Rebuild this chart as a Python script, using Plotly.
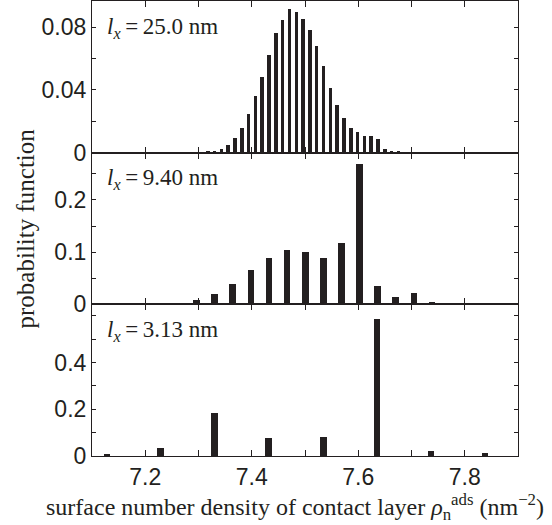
import plotly.graph_objects as go
from plotly.subplots import make_subplots

INK = "#231f20"

# ---- data: l_x = 25.0 nm (top panel)
x_25 = [7.3175, 7.3303, 7.3431, 7.3558, 7.3686, 7.3814, 7.3942, 7.4070, 7.4197, 7.4325,
        7.4453, 7.4581, 7.4709, 7.4837, 7.4964, 7.5092, 7.5220, 7.5348, 7.5476, 7.5603,
        7.5731, 7.5859, 7.5987, 7.6115, 7.6243, 7.6370, 7.6498, 7.6626, 7.6754]
p_25 = [0.0007, 0.0010, 0.0026, 0.0050, 0.0091, 0.0160, 0.0249, 0.0364, 0.0485, 0.0625,
        0.0766, 0.0847, 0.0917, 0.0900, 0.0853, 0.0783, 0.0683, 0.0555, 0.0413, 0.0306,
        0.0220, 0.0159, 0.0132, 0.0106, 0.0106, 0.0089, 0.0026, 0.0009, 0.0006]

# ---- data: l_x = 9.40 nm (middle panel)
x_940 = [7.2624, 7.2964, 7.3304, 7.3644, 7.3984, 7.4324, 7.4664, 7.5004, 7.5344, 7.5684,
         7.6024, 7.6364, 7.6704, 7.7044, 7.7384, 7.7724]
p_940 = [0.0026, 0.0083, 0.0204, 0.0396, 0.0658, 0.0888, 0.1040, 0.1003, 0.0888, 0.1175,
         0.2685, 0.0351, 0.0140, 0.0217, 0.0045, 0.0013]

# ---- data: l_x = 3.13 nm (bottom panel)
x_313 = [7.1281, 7.2286, 7.3299, 7.4311, 7.5343, 7.6355, 7.7368, 7.8380]
p_313 = [0.0057, 0.0329, 0.1830, 0.0757, 0.0800, 0.5860, 0.0200, 0.0114]

panel_labels = ["25.0", "9.40", "3.13"]
x_ticks = [7.2, 7.4, 7.6, 7.8]
x_ticktext = ["7.2", "7.4", "7.6", "7.8"]
y_ticks = [[0, 0.04, 0.08], [0, 0.1, 0.2], [0, 0.2, 0.4]]
y_ticktext = [["0", "0.04", "0.08"], ["0", "0.1", "0.2"], ["0", "0.2", "0.4"]]
y_minor = [0.02, 0.05, 0.1]
y_ranges = [[0, 0.0968], [0, 0.2905], [0, 0.6495]]
bar_widths = [0.0066, 0.0125, 0.0125]

fig = make_subplots(rows=3, cols=1, shared_xaxes=True, vertical_spacing=0)

series = [(x_25, p_25), (x_940, p_940), (x_313, p_313)]
for i, (xs, ys) in enumerate(series):
    fig.add_trace(go.Bar(x=xs, y=ys, width=bar_widths[i], marker=dict(color=INK, line=dict(width=0)),
                         showlegend=False), row=i + 1, col=1)

tick_font = dict(family="Liberation Sans, Arial, sans-serif", size=23, color=INK)
for i in range(3):
    fig.update_xaxes(row=i + 1, col=1, range=[7.1, 7.9], tickvals=x_ticks, ticktext=x_ticktext,
                     ticks="inside", ticklen=6, tickwidth=1.1, tickcolor=INK,
                     minor=dict(ticks="inside", dtick=0.1, tick0=7.1, ticklen=6, tickwidth=1.1,
                                tickcolor=INK, showgrid=False),
                     showline=True, linecolor=INK, linewidth=1.1, mirror="ticks",
                     showgrid=False, zeroline=False, tickfont=tick_font,
                     showticklabels=(i == 2))
    fig.update_yaxes(row=i + 1, col=1, range=y_ranges[i], tickvals=y_ticks[i], ticktext=y_ticktext[i],
                     ticks="inside", ticklen=4, tickwidth=1.1, tickcolor=INK,
                     minor=dict(ticks="inside", dtick=y_minor[i], tick0=0, ticklen=4, tickwidth=1.1,
                                tickcolor=INK, showgrid=False),
                     showline=True, linecolor=INK, linewidth=1.1, mirror="ticks",
                     showgrid=False, zeroline=False, tickfont=tick_font)

serif = "Liberation Serif, Times New Roman, serif"
for i, lab in enumerate(panel_labels):
    fig.add_annotation(xref="x domain" if i == 0 else f"x{i+1} domain",
                       yref="y domain" if i == 0 else f"y{i+1} domain",
                       x=0.03, y=0.93, xanchor="left", yanchor="top", showarrow=False,
                       text=f"<i>l</i><sub><i>x</i></sub>\u2009=\u2009{lab} nm",
                       font=dict(family=serif, size=23, color=INK))

fig.add_annotation(xref="paper", yref="paper", x=0.476, y=-0.113, xanchor="center", yanchor="middle",
                   showarrow=False,
                   text="surface number density of contact layer <i>\u03c1</i><sub>n</sub><sup>ads</sup> (nm<sup>\u22122</sup>)",
                   font=dict(family=serif, size=24, color=INK))
fig.add_annotation(xref="paper", yref="paper", x=-0.155, y=0.5, xanchor="center", yanchor="middle",
                   textangle=-90, showarrow=False, text="probability function",
                   font=dict(family=serif, size=25, color=INK))

fig.update_layout(width=552, height=525, margin=dict(l=92, r=34, t=1, b=69),
                  paper_bgcolor="white", plot_bgcolor="white", bargap=0)

fig.write_html("out.html")
